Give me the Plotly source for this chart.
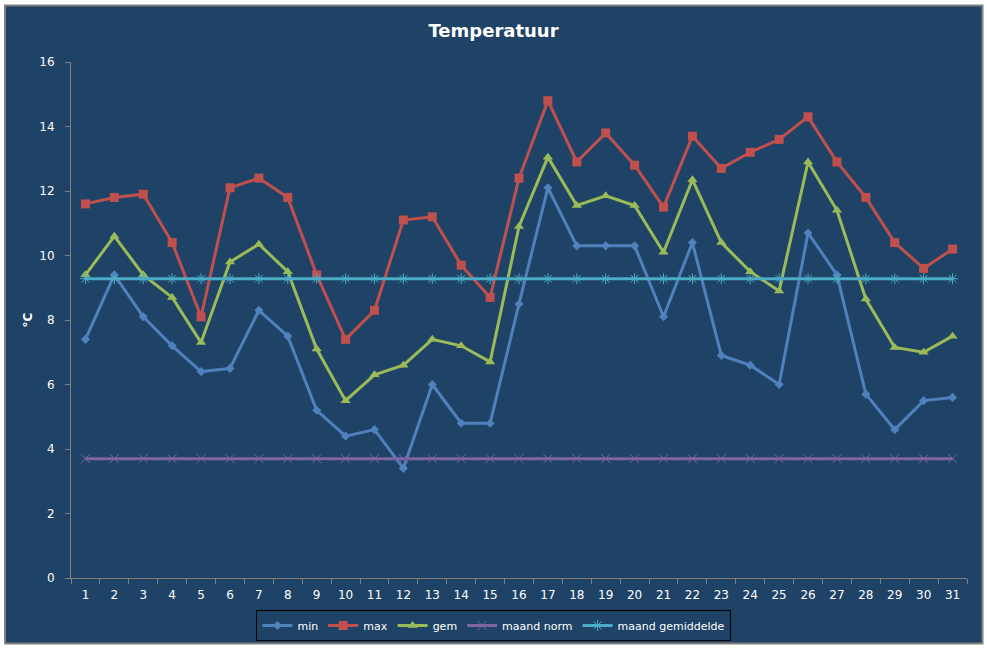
import plotly.graph_objects as go

# ── Data ───────────────────────────────────────────────────────────────────
days = [str(d) for d in range(1, 32)]

t_min = [7.4, 9.4, 8.1, 7.2, 6.4, 6.5, 8.3, 7.5, 5.2, 4.4, 4.6, 3.4, 6.0, 4.8, 4.8,
         8.5, 12.1, 10.3, 10.3, 10.3, 8.1, 10.4, 6.9, 6.6, 6.0, 10.7, 9.4, 5.7, 4.6, 5.5, 5.6]
t_max = [11.6, 11.8, 11.9, 10.4, 8.1, 12.1, 12.4, 11.8, 9.4, 7.4, 8.3, 11.1, 11.2, 9.7, 8.7,
         12.4, 14.8, 12.9, 13.8, 12.8, 11.5, 13.7, 12.7, 13.2, 13.6, 14.3, 12.9, 11.8, 10.4, 9.6, 10.2]
t_gem = [9.4, 10.6, 9.4, 8.7, 7.3, 9.8, 10.35, 9.5, 7.1, 5.5, 6.3, 6.6, 7.4, 7.2, 6.7,
         10.9, 13.05, 11.55, 11.85, 11.55, 10.1, 12.35, 10.4, 9.5, 8.9, 12.9, 11.4, 8.65, 7.15, 7.0, 7.5]
maand_norm = [3.7] * 31
maand_gem = [9.28] * 31

BG = "#1F4366"
FONT = "DejaVu Sans"

fig = go.Figure()

series = [
    ("min", t_min, "#4F81BD", dict(symbol="diamond", size=7)),
    ("max", t_max, "#C0504D", dict(symbol="square", size=9)),
    ("gem", t_gem, "#9BBB59", dict(symbol="triangle-up", size=9)),
    ("maand norm", maand_norm, "#8064A2", dict(symbol="x-thin-open", size=9, line=dict(width=1))),
    ("maand gemiddelde", maand_gem, "#4BACC6", dict(symbol="asterisk-open", size=9, line=dict(width=1))),
]
for name, vals, color, marker in series:
    m = dict(color=color, **marker)
    if "line" in m:
        m["line"]["color"] = color
    fig.add_trace(go.Scatter(x=days, y=vals, name=name, mode="lines+markers",
                             line=dict(color=color, width=3), marker=m))

# frame of the chart area
fig.add_shape(type="rect", xref="paper", yref="paper",
              x0=-0.0736, x1=1.0173, y0=-0.1267, y1=1.1097,
              fillcolor=BG, line=dict(color="#7F7F7F", width=2), layer="below")

fig.update_layout(
    width=987, height=648,
    margin=dict(l=71, r=19.5, t=61.7, b=69.5),
    paper_bgcolor="white",
    plot_bgcolor=BG,
    font=dict(family=FONT, size=12, color="white"),
    title=dict(text="<b>Temperatuur</b>", x=0.5, xanchor="center",
               y=1 - 31 / 648, yanchor="middle",
               font=dict(family=FONT, size=18, color="white")),
    showlegend=True,
    legend=dict(orientation="h", x=0.472, xanchor="center",
                yref="container", y=(648 - 610) / 648, yanchor="top",
                bordercolor="black", borderwidth=1, bgcolor=BG,
                font=dict(family=FONT, size=11, color="white"), itemwidth=30,
                tracegroupgap=0),
    xaxis=dict(type="category", showgrid=False, zeroline=False,
               showline=True, linecolor="#808080", linewidth=1,
               ticks="outside", tickson="boundaries", ticklen=5, tickcolor="#808080",
               ticklabelstandoff=6, automargin=False,
               range=[-0.5, 30.5], tickfont=dict(size=12, color="white")),
    yaxis=dict(range=[0, 16], dtick=2, showgrid=False, zeroline=False,
               showline=True, linecolor="#808080", linewidth=1,
               ticks="outside", ticklen=5, tickcolor="#808080",
               ticklabelstandoff=8, automargin=False,
               tickfont=dict(size=12, color="white"),
               title=dict(text="<b>°C</b>", font=dict(size=12, color="white"), standoff=4)),
)

fig.write_html("out.html", config={"displayModeBar": False},
               post_script="document.body.style.margin='0';document.body.style.overflow='hidden';")
